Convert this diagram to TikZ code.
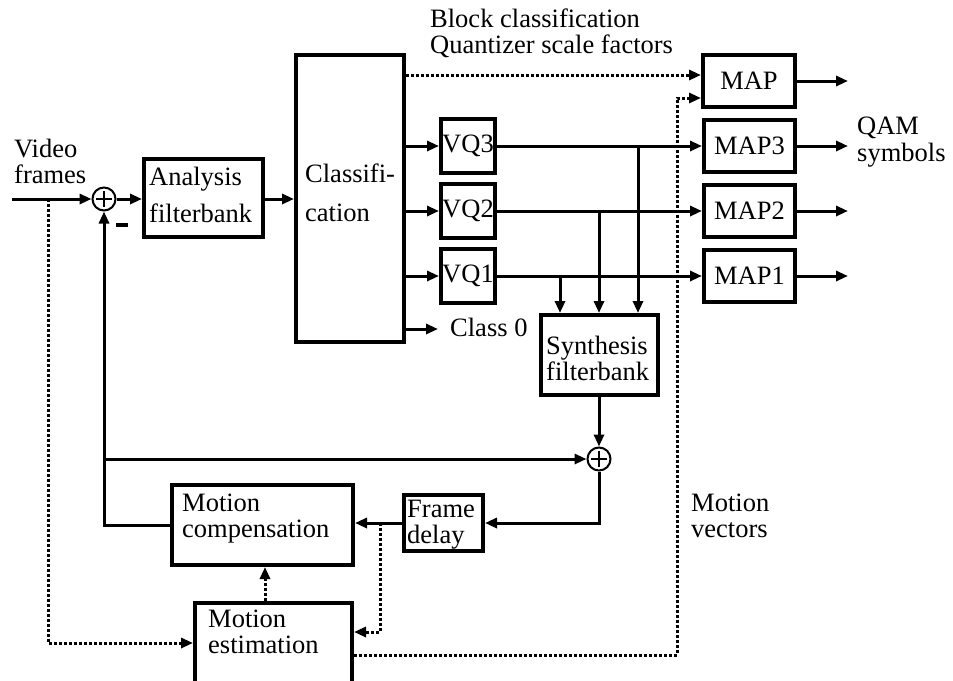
\documentclass[tikz,border=0pt]{standalone}
\usepackage{fontspec}
\setmainfont{Liberation Serif}
\usetikzlibrary{arrows.meta}
\begin{document}
\begin{tikzpicture}[x=1pt,y=-1pt,
  every node/.style={font=\fontsize{26.5}{25.5}\selectfont},
  box/.style={draw, line width=4pt, inner sep=0pt, anchor=center},
  wire/.style={line width=3pt},
  arr/.style={wire, -{Triangle[length=12pt,width=10pt]}},
  dotl/.style={line width=3pt, dash pattern=on 3pt off 2pt},
  darr/.style={dotl, -{Triangle[length=12pt,width=10pt]}},
  sumj/.style={draw, circle, line width=2pt, minimum size=23pt, inner sep=0pt},
  lbl/.style={anchor=base west, align=left, inner sep=0pt},
]
\clip (0,0) rectangle (953,680);

% boxes
\node[box, minimum width=119pt, minimum height=78pt] (ana) at (203.5,198) {};
\node[box, minimum width=108pt, minimum height=287pt] (cls) at (350,198.5) {};
\node[box, minimum width=54pt, minimum height=54pt] (vq3) at (468,146) {VQ3};
\node[box, minimum width=54pt, minimum height=54pt] (vq2) at (468,211) {VQ2};
\node[box, minimum width=54pt, minimum height=54pt] (vq1) at (468,276) {VQ1};
\node[box, minimum width=92pt, minimum height=52pt] (map) at (749,81) {MAP};
\node[box, minimum width=91pt, minimum height=52pt] (map3) at (749.5,146) {MAP3};
\node[box, minimum width=91pt, minimum height=52pt] (map2) at (749.5,211) {MAP2};
\node[box, minimum width=91pt, minimum height=52pt] (map1) at (749.5,276) {MAP1};
\node[box, minimum width=117pt, minimum height=80pt] (syn) at (599,355) {};
\node[box, minimum width=79pt, minimum height=56pt] (fd) at (443.5,523) {};
\node[box, minimum width=181pt, minimum height=80pt] (mc) at (262.5,525) {};
\node[box, minimum width=157pt, minimum height=97pt] (est) at (273.5,651.5) {};
\node[sumj] (s1) at (104,199) {};
\node[sumj] (s2) at (599,459) {};

% plus signs
\draw[line width=2.5pt] ([xshift=-8pt]s1.center) -- ([xshift=8pt]s1.center);
\draw[line width=2.5pt] ([yshift=-8pt]s1.center) -- ([yshift=8pt]s1.center);
\draw[line width=2.5pt] ([xshift=-8pt]s2.center) -- ([xshift=8pt]s2.center);
\draw[line width=2.5pt] ([yshift=-8pt]s2.center) -- ([yshift=8pt]s2.center);
\node[inner sep=0pt] (minus) at (122,225) {\rule{12pt}{3.5pt}};

% texts (anchor = baseline of last line)
\node[lbl] (vidt) at (14,183) {Video\\frames};
\node[lbl] (bct) at (430,53) {Block classification\\Quantizer scale factors};
\node[lbl] (qamt) at (857,161) {QAM\\[1.5pt]symbols};
\node[lbl] (mvt) at (691,537) {Motion\\vectors};
\node[lbl] (clst) at (305,221) {Classifi-\\[13.5pt]cation};
\node[lbl] (anat) at (149,222) {Analysis\\[11.5pt]filterbank};
\node[lbl] (synt) at (546,380) {Synthesis\\filterbank};
\node[lbl] (fdt) at (407,543) {Frame\\delay};
\node[lbl] (mct) at (182,537) {Motion\\compensation};
\node[lbl] (estt) at (208,653) {Motion\\estimation};
\node[lbl] (c0) at (450,336) {Class 0};

% coordinates
\coordinate (vin) at (12,199);
\coordinate (vtap) at (48,199);
\coordinate (c0in) at (438,329);
\coordinate (fb) at (104,459);
\coordinate (fdtap) at (380,523);
\coordinate (mvc) at (677,98);
\coordinate (t1) at (560,276);
\coordinate (t2) at (599,211);
\coordinate (t3) at (638,146);
\coordinate (oend) at (848,0);

% solid connectors
\draw[arr] (vin) -- (s1);
\draw[arr] (s1) -- (ana.west |- s1);
\draw[arr] (ana.east |- s1) -- (cls.west |- s1);
\draw[arr] (cls.east |- vq3) -- (vq3.west);
\draw[arr] (cls.east |- vq2) -- (vq2.west);
\draw[arr] (cls.east |- vq1) -- (vq1.west);
\draw[arr] (cls.east |- c0in) -- (c0in);
\draw[arr] (vq3.east) -- (map3.west);
\draw[arr] (vq2.east) -- (map2.west);
\draw[arr] (vq1.east) -- (map1.west);
\draw[arr] (map.east) -- (map.east -| oend);
\draw[arr] (map3.east) -- (map3.east -| oend);
\draw[arr] (map2.east) -- (map2.east -| oend);
\draw[arr] (map1.east) -- (map1.east -| oend);
\draw[arr] (t1) -- (t1 |- syn.north);
\draw[arr] (t2) -- (t2 |- syn.north);
\draw[arr] (t3) -- (t3 |- syn.north);
\draw[arr] (syn.south) -- (s2.north);
\draw[arr] (fb) -- (s2.west);
\draw[arr] (s2.south) |- (fd.east);
\draw[arr] (fd.west) -- (mc.east |- fd.west);
\draw[arr] (mc.west) -| (s1.south);

% dotted connectors
\draw[darr] (cls.east |- 0,75) -- (map.west |- 0,75);
\draw[darr] (est.east |- 0,655) -| (mvc) -- (map.west |- mvc);
\draw[darr] (vtap) |- (est.west |- 0,643);
\draw[darr] (fdtap) |- (est.east |- 0,632);
\draw[darr] (est.north -| 265,0) -- (mc.south -| 265,0);
\end{tikzpicture}
\end{document}
